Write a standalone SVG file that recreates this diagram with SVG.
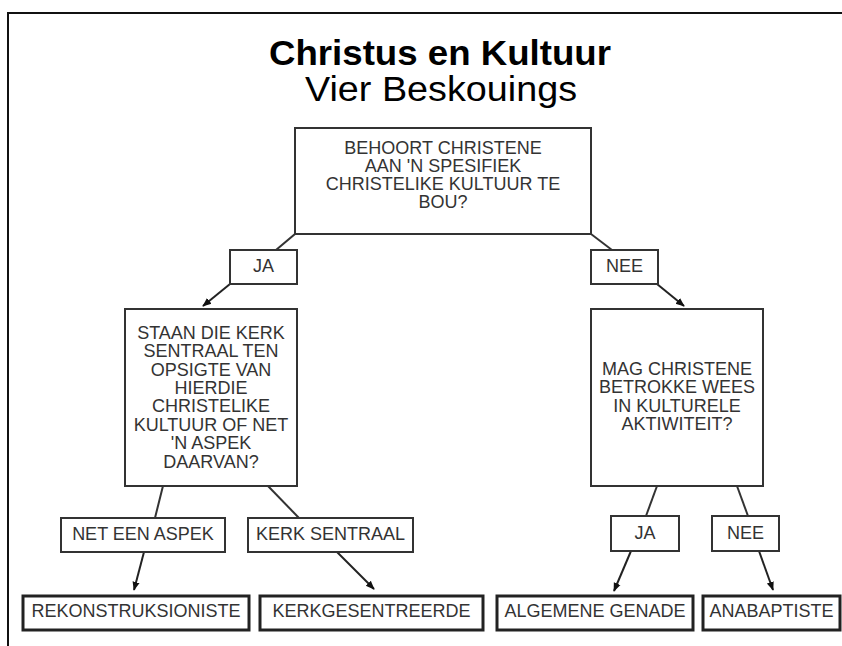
<svg xmlns="http://www.w3.org/2000/svg" width="842" height="646" viewBox="0 0 842 646">
<defs>
<style>
.box{fill:#fff;stroke:#333;stroke-width:2}
.end{fill:#fff;stroke:#222;stroke-width:3}
.t{font-family:"Liberation Sans",Arial,sans-serif;font-size:18px;fill:#333;text-anchor:middle}
.h{font-family:"Liberation Sans",Arial,sans-serif;font-size:35px;fill:#000;text-anchor:middle}
.c{stroke:#333;stroke-width:2;fill:none}
.a{stroke:#222;stroke-width:2;fill:none;marker-end:url(#ah)}
</style>
<marker id="ah" viewBox="0 0 10 10" refX="9" refY="5" markerWidth="9" markerHeight="9" markerUnits="userSpaceOnUse" orient="auto">
<path d="M0,1 L10,5 L0,9 Z" fill="#111"/>
</marker>
</defs>
<rect width="842" height="646" fill="#fff"/>
<path d="M8,646 V13 H842" fill="none" stroke="#111" stroke-width="2"/>
<g id="title">
<text class="h" x="440" y="65" font-weight="bold" textLength="342" lengthAdjust="spacingAndGlyphs">Christus en Kultuur</text>
<text class="h" x="441" y="101" textLength="272" lengthAdjust="spacingAndGlyphs">Vier Beskouings</text>
</g>
<g id="connectors">
<line class="c" x1="295" y1="234" x2="276" y2="250"/>
<line class="c" x1="591" y1="234" x2="612" y2="250"/>
<line class="a" x1="230" y1="284" x2="203" y2="306"/>
<line class="a" x1="657" y1="284" x2="684" y2="306"/>
<line class="c" x1="163" y1="486" x2="155" y2="518"/>
<line class="c" x1="268" y1="486" x2="299" y2="518"/>
<line class="a" x1="144" y1="552" x2="134" y2="590"/>
<line class="a" x1="337" y1="552" x2="374" y2="589"/>
<line class="c" x1="657" y1="486" x2="646" y2="516"/>
<line class="c" x1="737" y1="486" x2="748" y2="516"/>
<line class="a" x1="631" y1="551" x2="614" y2="591"/>
<line class="a" x1="759" y1="551" x2="773" y2="590"/>
</g>
<g id="q1">
<rect class="box" x="295" y="128" width="296" height="106"/>
<text class="t"><tspan x="443" y="153.5">BEHOORT CHRISTENE</tspan><tspan x="443" y="171.8">AAN 'N SPESIFIEK</tspan><tspan x="443" y="190.1">CHRISTELIKE KULTUUR TE</tspan><tspan x="443" y="208.4">BOU?</tspan></text>
</g>
<g id="ja1">
<rect class="box" x="230" y="250" width="67" height="34"/>
<text class="t" x="263.5" y="272.3">JA</text>
</g>
<g id="nee1">
<rect class="box" x="591" y="250" width="67" height="34"/>
<text class="t" x="624.5" y="272.3">NEE</text>
</g>
<g id="q2">
<rect class="box" x="125" y="309" width="172" height="177"/>
<text class="t"><tspan x="211" y="338.7">STAAN DIE KERK</tspan><tspan x="211" y="357.1">SENTRAAL TEN</tspan><tspan x="211" y="375.5">OPSIGTE VAN</tspan><tspan x="211" y="393.9">HIERDIE</tspan><tspan x="211" y="412.3">CHRISTELIKE</tspan><tspan x="211" y="430.7">KULTUUR OF NET</tspan><tspan x="211" y="449.1">'N ASPEK</tspan><tspan x="211" y="467.5">DAARVAN?</tspan></text>
</g>
<g id="q3">
<rect class="box" x="591" y="309" width="172" height="177"/>
<text class="t"><tspan x="677" y="375">MAG CHRISTENE</tspan><tspan x="677" y="393.4">BETROKKE WEES</tspan><tspan x="677" y="411.8">IN KULTURELE</tspan><tspan x="677" y="430.2">AKTIWITEIT?</tspan></text>
</g>
<g id="aspek">
<rect class="box" x="61" y="518" width="164" height="34"/>
<text class="t" x="143" y="539.5">NET EEN ASPEK</text>
</g>
<g id="sentraal">
<rect class="box" x="248" y="518" width="165" height="34"/>
<text class="t" x="330.5" y="539.5">KERK SENTRAAL</text>
</g>
<g id="ja2">
<rect class="box" x="611" y="516" width="68" height="35"/>
<text class="t" x="645" y="538.5">JA</text>
</g>
<g id="nee2">
<rect class="box" x="712" y="516" width="67" height="35"/>
<text class="t" x="745.5" y="538.5">NEE</text>
</g>
<g id="rekonstruksioniste">
<rect class="end" x="23" y="596" width="226" height="34"/>
<text class="t" x="136" y="617">REKONSTRUKSIONISTE</text>
</g>
<g id="kerkgesentreerde">
<rect class="end" x="260" y="596" width="223" height="34"/>
<text class="t" x="371.5" y="617">KERKGESENTREERDE</text>
</g>
<g id="algemene">
<rect class="end" x="497" y="596" width="196" height="34"/>
<text class="t" x="595" y="617">ALGEMENE GENADE</text>
</g>
<g id="anabaptiste">
<rect class="end" x="703" y="596" width="137" height="34"/>
<text class="t" x="771.5" y="617">ANABAPTISTE</text>
</g>
</svg>
